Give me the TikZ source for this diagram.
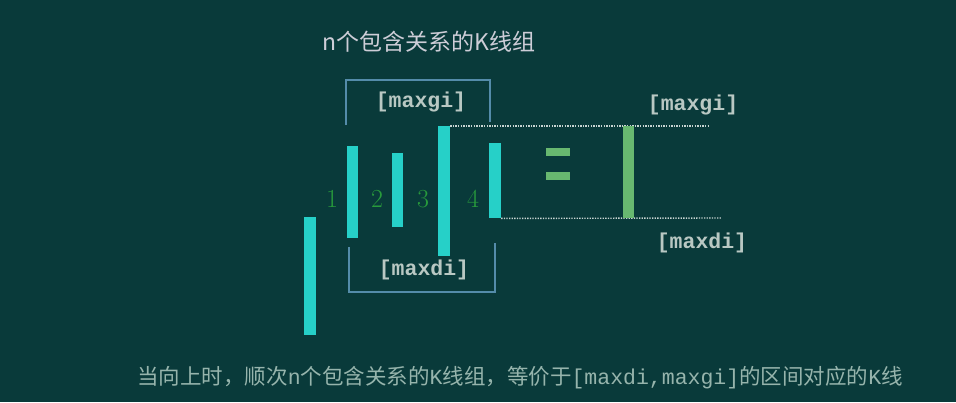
\documentclass[tikz,border=0pt]{standalone}
\usepackage{fontspec}
\newfontfamily\cjk{Noto Sans CJK SC}
\newfontfamily\monof{Liberation Mono}
\definecolor{bg}{RGB}{9,58,58}
\definecolor{cyanc}{RGB}{38,208,200}
\definecolor{greenc}{RGB}{104,184,112}
\definecolor{numc}{RGB}{40,155,60}
\definecolor{brk}{RGB}{84,140,170}
\definecolor{lbl}{RGB}{185,200,195}
\definecolor{titlec}{RGB}{205,205,215}
\definecolor{botc}{RGB}{150,180,172}
\definecolor{dotc}{RGB}{200,212,210}
\tikzset{
  candle/.style={fill=cyanc, draw=none, minimum width=11pt, inner sep=0pt, anchor=north},
  gcandle/.style={candle, fill=greenc},
  num/.style={text=numc, font=\fontsize{26}{30}\selectfont},
  bracketline/.style={draw=brk, line width=1.6pt},
  blabel/.style={text=lbl, font=\monof\bfseries\fontsize{21.5}{26}\selectfont},
  dotline/.style={draw=dotc, line width=1.4pt, dash pattern=on 1.3pt off 1.3pt},
  eqbar/.style={fill=greenc, draw=none, minimum width=24pt, minimum height=8pt, inner sep=0pt}
}
\begin{document}
\begin{tikzpicture}[x=1pt,y=-1pt]
\fill[bg] (0,0) rectangle (956,402);
\useasboundingbox (0,0) rectangle (956,402);
% title
\node[text=titlec, font=\cjk\fontsize{23}{26}\selectfont] (title) at (429,42) {n个包含关系的K线组};
% top bracket
\draw[bracketline] (346,125) -- (346,80) -- (490,80) -- (490,122);
\node[blabel] (gi1) at (421,102) {[maxgi]};
% bottom bracket
\draw[bracketline] (349,247) -- (349,292) -- (495,292) -- (495,243);
\node[blabel] (di1) at (424,270) {[maxdi]};
% candles
\node[candle, minimum width=12pt, minimum height=118pt] (c0) at (310,217) {};
\node[candle, minimum height=92pt] (c1) at (352.5,146) {};
\node[candle, minimum height=74pt] (c2) at (397.5,153) {};
\node[candle, minimum width=12pt, minimum height=130pt] (c3) at (444,126) {};
\node[candle, minimum width=12pt, minimum height=75pt] (c4) at (495,143) {};
% numbers
\node[num] (n1) at (332,199) {1};
\node[num] (n2) at (377,199) {2};
\node[num] (n3) at (423,199) {3};
\node[num] (n4) at (473,199) {4};
% dotted lines
\coordinate (te) at (710,126);
\coordinate (be) at (722,218);
\draw[dotline] (c3.north east) -- (te);
\draw[dotline] (c4.south east) -- (be);
% equals
\node[eqbar] (e1) at (558,152) {};
\node[eqbar] (e2) at (558,176) {};
% green candle
\node[gcandle, minimum height=92pt] (g) at (628.5,126) {};
% right labels
\node[blabel] (gi2) at (693,105) {[maxgi]};
\node[blabel] (di2) at (702,243) {[maxdi]};
% bottom text
\node[text=botc, font=\cjk\fontsize{21.5}{24}\selectfont] (bot) at (520,378) {当向上时，顺次{\monof n}个包含关系的{\monof K}线组，等价于{\monof [maxdi,maxgi]}的区间对应的{\monof K}线};
\end{tikzpicture}
\end{document}
